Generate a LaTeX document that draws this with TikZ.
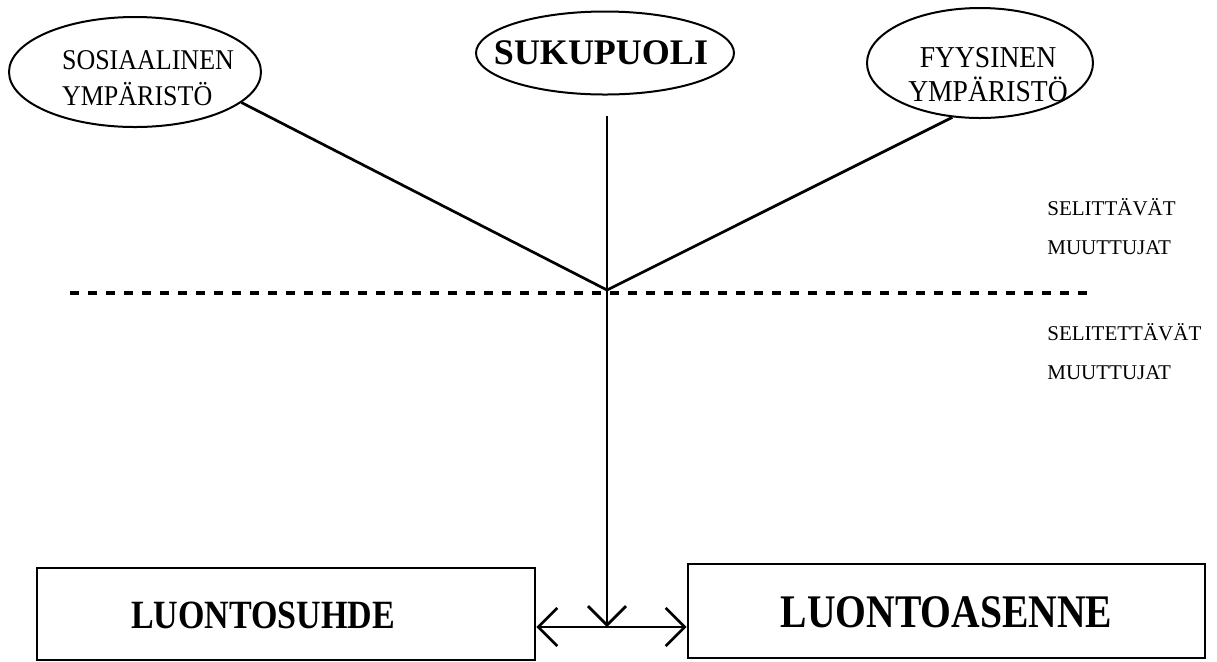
\documentclass[tikz,border=0pt]{standalone}
\usepackage{fontspec}
\setmainfont{Liberation Serif}
\usetikzlibrary{shapes.geometric,arrows.meta}
\begin{document}
\begin{tikzpicture}[x=0.5pt,y=-0.5pt,
  oval/.style={ellipse,draw,line width=1pt,inner sep=0pt},
  conn/.style={line width=1.35pt},
  barb/.style={-{Straight Barb[length=9.5pt,width=19pt,line width=1.35pt]}},
  dbarb/.style={{Straight Barb[length=9.5pt,width=19pt,line width=1.35pt]}-{Straight Barb[length=9.5pt,width=19pt,line width=1.35pt]}},
  box/.style={draw,line width=1.4pt,inner sep=0pt},
  side/.style={font=\fontsize{10.5}{12}\selectfont,anchor=base west,inner sep=0pt}]
\useasboundingbox (0,0) rectangle (1217,661);
% ellipses
\node[oval,minimum width=126pt,minimum height=55pt,
  label={[xshift=6.5pt,yshift=-4pt,align=left,font=\fontsize{13}{16.4}\selectfont]center:\scalebox{1}[1.1]{\begin{tabular}{@{}l@{}}SOSIAALINEN\\YMPÄRISTÖ\end{tabular}}}] (e1) at (135,72) {};
\node[oval,minimum width=129pt,minimum height=41.5pt,
  label={[xshift=-2pt,font=\bfseries\fontsize{18}{20}\selectfont]center:SUKUPUOLI}] (e2) at (605,53) {};
\node[oval,minimum width=113pt,minimum height=55pt,
  label={[xshift=4pt,yshift=-7.5pt,font=\fontsize{13.8}{14}\selectfont]center:\scalebox{1}[1.1]{\begin{tabular}{@{}c@{}}FYYSINEN\\YMPÄRISTÖ\end{tabular}}}] (e3) at (980,63) {};
% boxes
\node[box,minimum width=249pt,minimum height=46pt,
  label={[xshift=-11.5pt,yshift=-0.5pt,font=\bfseries\fontsize{17}{20}\selectfont]center:\scalebox{1}[1.18]{LUONTOSUHDE}}] (b1) at (286,614) {};
\node[box,minimum width=258.5pt,minimum height=47pt,
  label={[yshift=-0.75pt,font=\bfseries\fontsize{19.8}{22}\selectfont]center:\scalebox{1}[1.18]{LUONTOASENNE}}] (b2) at (946.5,611) {};
% side labels
\node[side] (s1a) at (1047,215) {SELITTÄVÄT};
\node[side] (s1b) at (1047,254) {MUUTTUJAT};
\node[side] (s2a) at (1047,340) {SELITETTÄVÄT};
\node[side] (s2b) at (1047,379) {MUUTTUJAT};
% dashed divider
\coordinate (dl) at (70,293);
\coordinate (dr) at (1095,293);
\draw[line width=1.6pt,dash pattern=on 4.5pt off 4.5pt] (dl) -- (dr);
% connectors
\coordinate (J) at (607,290);
\coordinate (v0) at (607,116);
\coordinate (hy) at (607,627);
\draw[conn] (J) -- (e1.-16);
\draw[conn] (J) -- (e3.-117);
\draw[conn,barb] (v0) -- (hy);
\draw[conn,dbarb] (b1.east |- hy) -- (b2.west |- hy);
\end{tikzpicture}
\end{document}
